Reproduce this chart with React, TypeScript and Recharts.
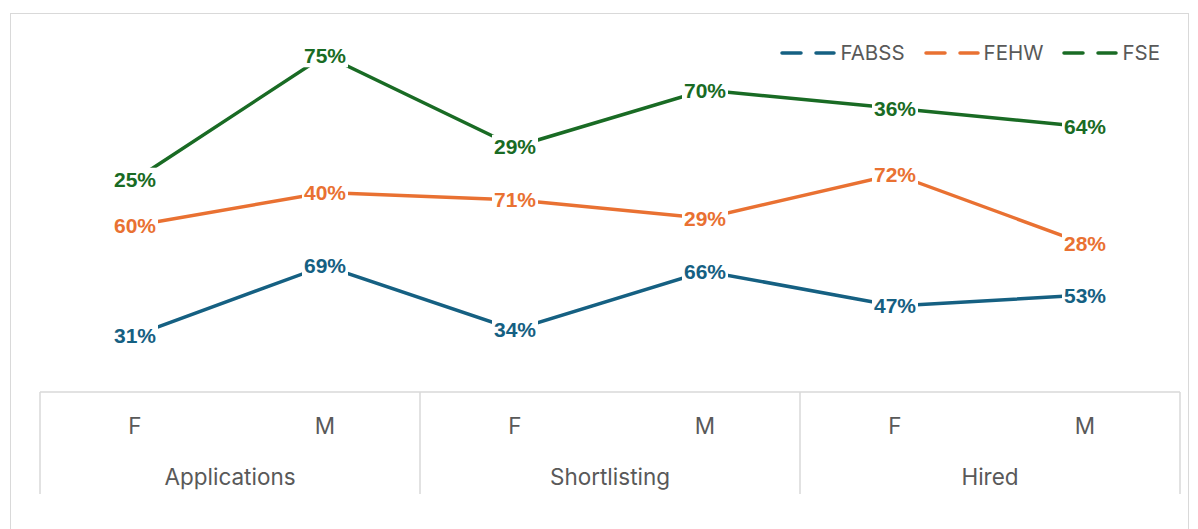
import React from "react";
import { LineChart, Line, XAxis, YAxis, Legend } from "recharts";

// categories
const sexes = ["F", "M", "F", "M", "F", "M"];
const stages = ["Applications", "Shortlisting", "Hired"];

// series values (%)
const fabss = [31, 69, 34, 66, 47, 53];
const fehw = [60, 40, 71, 29, 72, 28];
const fse = [25, 75, 29, 70, 36, 64];

const series = [
    { key: "FABSS", values: fabss, color: "#156082" },
    { key: "FEHW", values: fehw, color: "#E97132" },
    { key: "FSE", values: fse, color: "#196B24" },
];

// stacked line chart: each line sits on top of the previous ones
const data = sexes.map((s, i) => {
    const row: any = { sex: s };
    let total = 0;
    series.forEach(sr => {
        total += sr.values[i];
        row[sr.key] = total;
    });
    return row;
});

const W = 1177;
const H = 520;
const margin = { top: 12, right: 8, left: 29, bottom: 32 };
const half = (W - margin.left - margin.right) / sexes.length / 2;

const AXIS_FONT = "Inter, 'Open Sans', sans-serif";
const GRID = "#d9d9d9";
const TEXT = "#595959";

const CategoryTick = (props: any) => {
    const { x, y, payload, index } = props;
    const top = y - 8;
    return (
        <g>
            <text x={x} y={top + 33} textAnchor="middle" dominantBaseline="central" fontSize={22.5} fill={TEXT} fontFamily={AXIS_FONT}>
                {payload.value}
            </text>
            {index % 2 === 0 && (
                <>
                    <line x1={x - half} x2={x - half} y1={top} y2={top + 102} stroke={GRID} strokeWidth={1.5} />
                    <text x={x + half} y={top + 84} textAnchor="middle" dominantBaseline="central" fontSize={22.5} fill={TEXT} fontFamily={AXIS_FONT}>
                        {stages[index / 2]}
                    </text>
                </>
            )}
            {index === sexes.length - 1 && (
                <line x1={x + half} x2={x + half} y1={top} y2={top + 102} stroke={GRID} strokeWidth={1.5} />
            )}
        </g>
    );
};

const makeLabel = (values: number[], color: string) => (props: any) => {
    const { x, y, index } = props;
    return (
        <g key={`lbl-${index}`}>
            <rect x={x - 23} y={y - 12} width={46} height={24} fill="#fff" />
            <text x={x} y={y} textAnchor="middle" dominantBaseline="central" fontSize={21} fontWeight="bold" fill={color} fontFamily="'Liberation Sans', Arial, sans-serif">
                {values[index]}%
            </text>
        </g>
    );
};

const LegendContent = () => (
    <div style={{ display: "flex", alignItems: "center", gap: 19, fontFamily: AXIS_FONT, fontSize: 20.5, color: TEXT }}>
        {series.map(s => (
            <div key={s.key} style={{ display: "flex", alignItems: "center", gap: 4 }}>
                <svg width={56} height={8}>
                    <line x1={2} x2={54} y1={4} y2={4} stroke={s.color} strokeWidth={3.5} strokeDasharray="19 15" strokeLinecap="round" />
                </svg>
                <span>{s.key}</span>
            </div>
        ))}
    </div>
);

export default function App() {
    return (
        <div style={{ padding: "5px 0 0 2px" }}>
            <div style={{ width: W, height: H, border: `1px solid ${GRID}`, position: "relative", background: "#fff" }}>
                <LineChart width={W} height={H} data={data} margin={margin}>
                    <XAxis
                        dataKey="sex"
                        padding={{ left: half, right: half }}
                        height={110}
                        axisLine={{ stroke: GRID, strokeWidth: 1.5 }}
                        tickLine={false}
                        tick={<CategoryTick />}
                        interval={0}
                    />
                    <YAxis hide domain={[0, 200]} />
                    <Legend
                        layout="horizontal"
                        verticalAlign="middle"
                        align="center"
                        content={<LegendContent />}
                        wrapperStyle={{ top: 26, right: 28, left: "auto", width: "auto", height: 26 }}
                    />
                    {series.map(s => (
                        <Line
                            key={s.key}
                            dataKey={s.key}
                            stroke={s.color}
                            strokeWidth={3.5}
                            dot={false}
                            activeDot={false}
                            isAnimationActive={false}
                            label={makeLabel(s.values, s.color)}
                        />
                    ))}
                </LineChart>
            </div>
        </div>
    );
}
